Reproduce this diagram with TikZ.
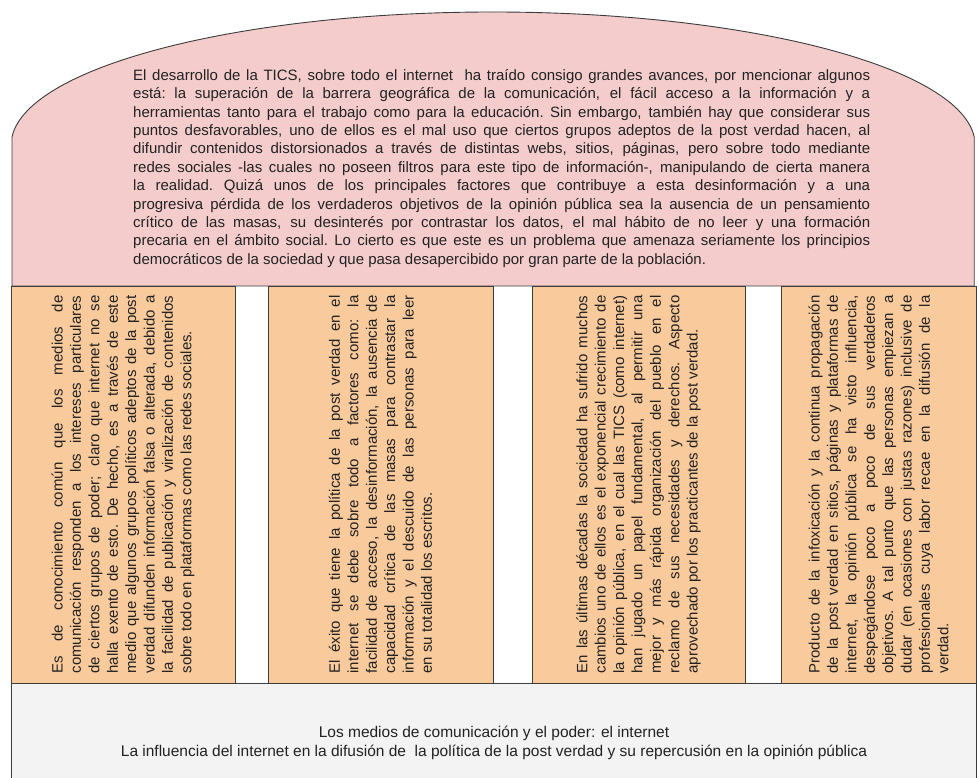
\documentclass[tikz,border=0pt]{standalone}
\usepackage{fontspec}
\setmainfont{Liberation Sans}
\definecolor{pinkc}{HTML}{F4CCCC}
\definecolor{orangec}{HTML}{F9CB9C}
\definecolor{grayc}{HTML}{F3F3F3}
\definecolor{linec}{HTML}{3C3C3C}
\definecolor{txtc}{HTML}{222222}
\newcommand{\jstset}{\spaceskip=4.17pt plus 60pt minus 0.4pt\xspaceskip=4.17pt plus 60pt minus 0.4pt\hyphenpenalty=10000\exhyphenpenalty=10000\tolerance=10000\pretolerance=-1}
\tikzset{
  bodyfont/.style={font=\fontsize{15}{18.4}\selectfont, text=txtc},
  domeline/.style={draw=linec, line width=0.9pt},
  obox/.style={draw=linec, line width=0.9pt, fill=orangec, rotate=90, bodyfont,
     align=justify, text width=378pt, inner xsep=9.5pt, inner ysep=0pt, anchor=center},
  gbox/.style={draw=linec, line width=0.9pt, fill=grayc, font=\fontsize{15.5}{18.4}\selectfont, text=txtc, align=center,
     minimum width=965pt, minimum height=120pt, inner sep=0pt, anchor=center},
  dtext/.style={bodyfont, align=justify, text width=737pt, inner sep=0pt, anchor=north west}
}
\begin{document}
\begin{tikzpicture}[x=1pt,y=1pt]
\useasboundingbox (0,0) rectangle (979,778);
% dome
\draw[domeline, fill=pinkc] (12,492) -- (12,641)
   arc[start angle=176.55, end angle=3.45, x radius=482pt, y radius=133pt]
   -- ++(0,-149) -- cycle;
\node[dtext] (dome) at (133,709) {\jstset
El desarrollo de la TICS, sobre todo el internet\ \ ha traído consigo grandes avances, por mencionar algunos\linebreak
está: la superación de la barrera geográfica de la comunicación, el fácil acceso a la información y a\linebreak
herramientas tanto para el trabajo como para la educación. Sin embargo, también hay que considerar sus\linebreak
puntos desfavorables, uno de ellos es el mal uso que ciertos grupos adeptos de la post verdad hacen, al\linebreak
difundir contenidos distorsionados a través de distintas webs, sitios, páginas, pero sobre todo mediante\linebreak
redes sociales -las cuales no poseen filtros para este tipo de información-, manipulando de cierta manera\linebreak
la realidad. Quizá unos de los principales factores que contribuye a esta desinformación y a una\linebreak
progresiva pérdida de los verdaderos objetivos de la opinión pública sea la ausencia de un pensamiento\linebreak
crítico de las masas, su desinterés por contrastar los datos, el mal hábito de no leer y una formación\linebreak
precaria en el ámbito social. Lo cierto es que este es un problema que amenaza seriamente los principios\linebreak
democráticos de la sociedad y que pasa desapercibido por gran parte de la población.};
% bottom grey box
\node[gbox] (title) at (494,35) {Los medios de comunicación y el poder: el internet\\
La influencia del internet en la difusión de\ \ la política de la post verdad y su repercusión en la opinión pública};
% orange boxes
\node[obox, minimum height=224pt] (b1) at (123,293.5) {\jstset
Es de conocimiento común que los medios de\linebreak
comunicación responden a los intereses particulares\linebreak
de ciertos grupos de poder; claro que internet no se\linebreak
halla exento de esto. De hecho, es a través de este\linebreak
medio que algunos grupos políticos adeptos de la post\linebreak
verdad difunden información falsa o alterada, debido a\linebreak
la facilidad de publicación y viralización de contenidos\linebreak
sobre todo en plataformas como las redes sociales.};
\node[obox, minimum height=225pt] (b2) at (380.5,293.5) {\jstset
El éxito que tiene la política de la post verdad en el\linebreak
internet se debe sobre todo a factores como: la\linebreak
facilidad de acceso, la desinformación, la ausencia de\linebreak
capacidad crítica de las masas para contrastar la\linebreak
información y el descuido de las personas para leer\linebreak
en su totalidad los escritos.};
\node[obox, minimum height=213pt] (b3) at (638.5,293.5) {\jstset
En las últimas décadas la sociedad ha sufrido muchos\linebreak
cambios uno de ellos es el exponencial crecimiento de\linebreak
la opinión pública, en el cual las TICS (como internet)\linebreak
han jugado un papel fundamental, al permitir una\linebreak
mejor y más rápida organización del pueblo en el\linebreak
reclamo de sus necesidades y derechos. Aspecto\linebreak
aprovechado por los practicantes de la post verdad.};
\node[obox, minimum height=195pt] (b4) at (878.5,293.5) {\jstset
Producto de la infoxicación y la continua propagación\linebreak
de la post verdad en sitios, páginas y plataformas de\linebreak
internet, la opinión pública se ha visto influencia,\linebreak
despegándose poco a poco de sus verdaderos\linebreak
objetivos. A tal punto que las personas empiezan a\linebreak
dudar (en ocasiones con justas razones) inclusive de\linebreak
profesionales cuya labor recae en la difusión de la\linebreak
verdad.};
\end{tikzpicture}
\end{document}
